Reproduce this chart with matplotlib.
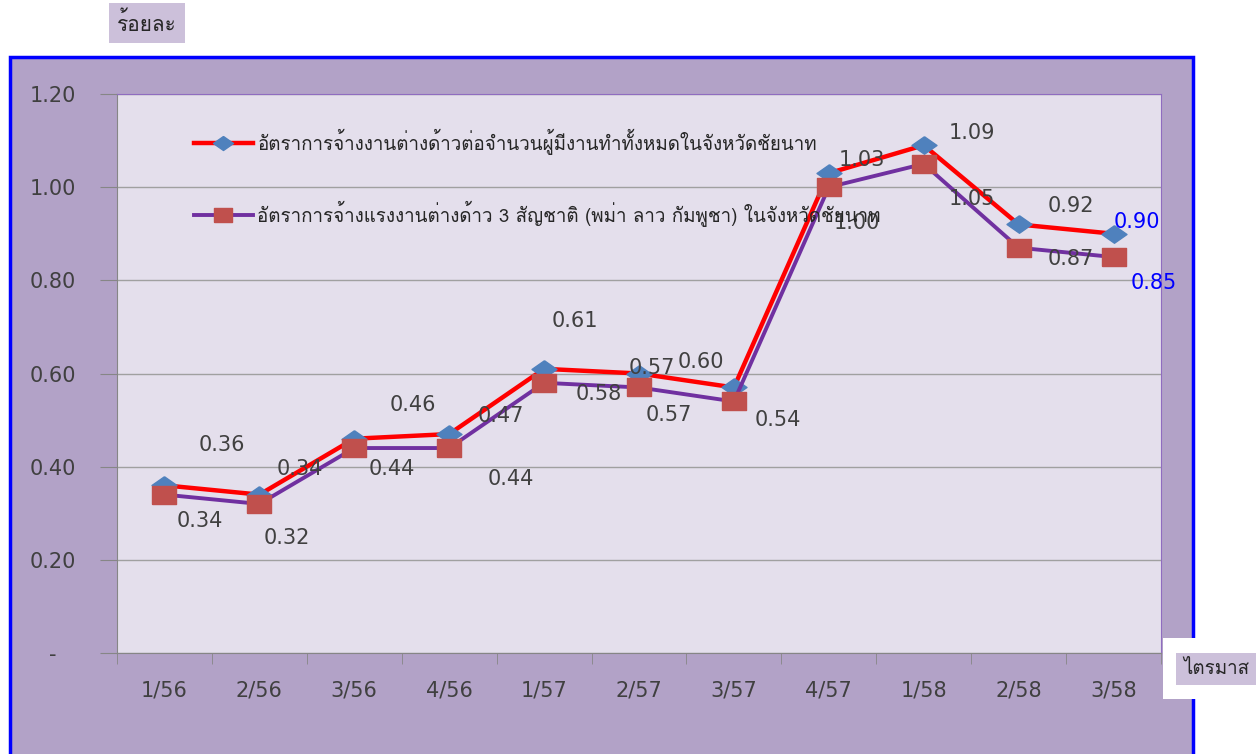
import matplotlib
matplotlib.use("Agg")
import matplotlib.pyplot as plt
from matplotlib import font_manager
from matplotlib.ft2font import FT2Font
from matplotlib.patches import Rectangle

# data
quarters = ["1/56", "2/56", "3/56", "4/56", "1/57", "2/57", "3/57", "4/57", "1/58", "2/58", "3/58"]
rate_all = [0.36, 0.34, 0.46, 0.47, 0.61, 0.60, 0.57, 1.03, 1.09, 0.92, 0.90]
rate_3nat = [0.34, 0.32, 0.44, 0.44, 0.58, 0.57, 0.54, 1.00, 1.05, 0.87, 0.85]
name_all = "อัตราการจ้างงานต่างด้าวต่อจำนวนผู้มีงานทำทั้งหมดในจังหวัดชัยนาท"
name_3nat = "อัตราการจ้างแรงงานต่างด้าว 3 สัญชาติ (พม่า ลาว กัมพูชา) ในจังหวัดชัยนาท"
y_ticks = [0, 0.2, 0.4, 0.6, 0.8, 1.0, 1.2]
y_ticklabels = ["-", "0.20", "0.40", "0.60", "0.80", "1.00", "1.20"]

# label offsets in pixels (hand placed like the original)
off_all = [(57, 40), (40, 26), (59, 34), (52, 18), (31, 48), (62, 12), (-82, 19),
           (33, 13), (48, 12), (52, 18), (23, 12)]
off_3nat = [(35, -26), (27, -34), (38, -21), (62, -31), (55, -11), (30, -28), (44, -19),
            (28, -36), (48, -35), (52, -11), (40, -26)]

# find a font that has thai glyphs
thai_font = "DejaVu Sans"
for f in font_manager.fontManager.ttflist:
    try:
        if 0x0E23 in FT2Font(f.fname).get_charmap():
            thai_font = f.name
            break
    except Exception:
        pass
plt.rcParams['font.family'] = [thai_font, "DejaVu Sans"]

W, H = 1259, 754
fig = plt.figure(figsize=(W / 100, H / 100), dpi=100)
fig.patch.set_facecolor("white")

# outer purple box with blue border (bottom runs off the picture)
fig.patches.append(Rectangle((10 / W, -0.02), (1193 - 10) / W, (H - 57) / H + 0.02, transform=fig.transFigure,
                             facecolor="#B2A2C7", edgecolor="#0000FF", linewidth=2.5, zorder=-5))

ax = fig.add_axes([117 / W, 1 - 653 / H, (1161 - 117) / W, (653 - 94) / H])
ax.set_zorder(3)
ax.set_facecolor("#E4DFEC")
x = list(range(len(quarters)))

sq = [(-1.28, -1), (1.28, -1), (1.28, 1), (-1.28, 1), (-1.28, -1)]
dia = [(0, 0.7), (1, 0), (0, -0.7), (-1, 0), (0, 0.7)]

ax.plot(x, rate_all, color="#FF0000", lw=3.2, marker=dia, markersize=18,
        markerfacecolor="#4F81BD", markeredgecolor="#4F81BD", label=name_all, zorder=3)
ax.plot(x, rate_3nat, color="#7030A0", lw=2.8, marker=sq, markersize=17,
        markerfacecolor="#C0504D", markeredgecolor="#C0504D", label=name_3nat, zorder=4)

for i in x:
    c = "#0000FF" if i == len(x) - 1 else "#404040"
    ax.annotate(f"{rate_all[i]:.2f}", (i, rate_all[i]), xytext=off_all[i], textcoords="offset pixels",
                ha="center", va="center", fontsize=15, color=c, family="DejaVu Sans", zorder=5)
    ax.annotate(f"{rate_3nat[i]:.2f}", (i, rate_3nat[i]), xytext=off_3nat[i], textcoords="offset pixels",
                ha="center", va="center", fontsize=15, color=c, family="DejaVu Sans", zorder=5)

ax.set_xlim(-0.5, len(x) - 0.5)
ax.set_ylim(0, 1.2)
ax.set_yticks(y_ticks)
ax.set_yticklabels(y_ticklabels, family="DejaVu Sans", fontsize=15, color="#404040", ha="center")
ax.tick_params(axis="y", length=12, color="#868686", pad=34)
ax.set_xticks(x)
ax.set_xticklabels(quarters, family="DejaVu Sans", fontsize=15, color="#404040")
ax.set_xticks([i - 0.5 for i in range(len(x) + 1)], minor=True)
ax.tick_params(axis="x", which="major", length=0, pad=20)
ax.tick_params(axis="x", which="minor", length=8, color="#868686")
ax.grid(axis="y", color="#A0A0A0", lw=1)
for s in ["left", "bottom"]:
    ax.spines[s].set_color("#868686")
for s in ["top", "right"]:
    ax.spines[s].set_color("#8F6CC0")

ax.legend(loc="upper left", bbox_to_anchor=(0.058, 0.968), frameon=False, fontsize=13.5,
          handlelength=3.1, handletextpad=0.25, labelspacing=2.45, markerscale=0.8,
          labelcolor="#262626")

# axis title boxes
fig.text(147 / W, 1 - 23 / H, "ร้อยละ", ha="center", va="center", fontsize=15, color="#262626",
         bbox=dict(boxstyle="square,pad=0.4", facecolor="#CCC0DA", edgecolor="none"))
fig.patches.append(Rectangle((1163 / W, 1 - 699 / H), (W - 1163) / W, 61 / H, transform=fig.transFigure,
                             facecolor="white", edgecolor="none", zorder=1))
fig.text(1216 / W, 1 - 669 / H, "ไตรมาส", ha="center", va="center", fontsize=13.5, color="#262626",
         bbox=dict(boxstyle="square,pad=0.35", facecolor="#CCC0DA", edgecolor="none"), zorder=2)

fig.savefig("out.png", dpi=100)
